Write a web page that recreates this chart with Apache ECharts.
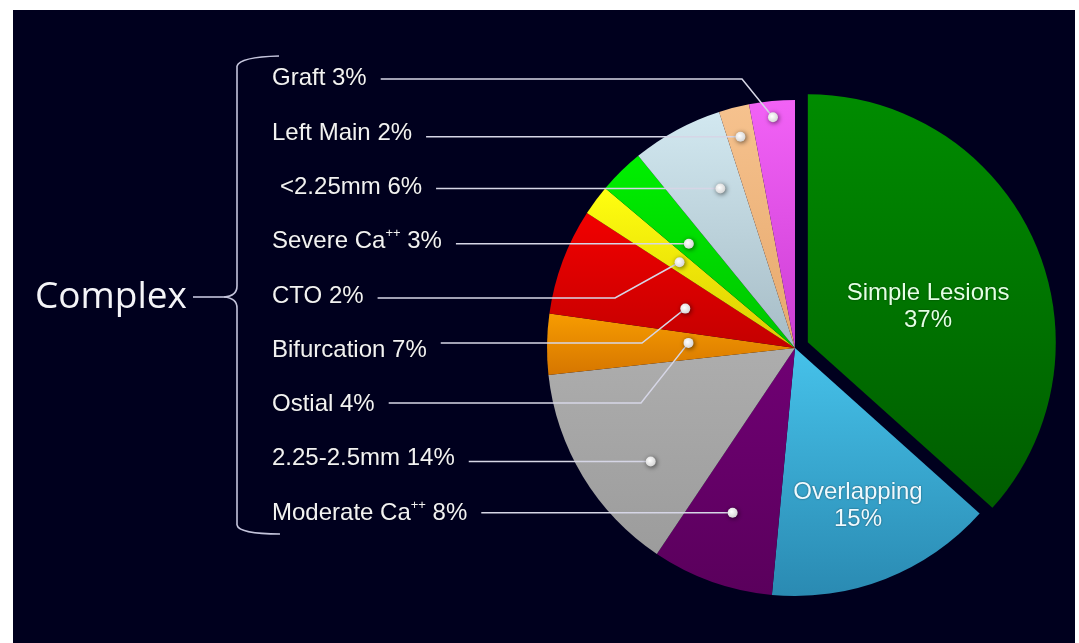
<!DOCTYPE html>
<html>
<head>
<meta charset="utf-8">
<script src="https://cdn.jsdelivr.net/npm/echarts@6/dist/echarts.min.js"></script>
<style>
  html, body { margin: 0; padding: 0; background: #fff; }
  #chart { width: 1079px; height: 643px; }
</style>
</head>
<body>
<div id="chart"></div>
<script>
// data, clockwise from 12 o'clock
const categories = ['Simple Lesions', 'Overlapping', 'Moderate Ca++', '2.25-2.5mm', 'Ostial',
  'Bifurcation', 'CTO', 'Severe Ca++', '<2.25mm', 'Left Main', 'Graft'];
const percents = [37, 15, 8, 14, 4, 7, 2, 3, 6, 2, 3];
const groupLabel = 'Complex';

// colours (top / bottom of gradient)
const colorsTop = ['#008c00', '#46c2ea', '#700074', '#adadad', '#f79c00', '#f20000', '#ffff10', '#00f000', '#d2e8f0', '#f6c28e', '#f262f6'];
const colorsBottom = ['#005c00', '#2a8ab2', '#5a005c', '#9c9c9c', '#d67600', '#c40000', '#dccc00', '#00c400', '#a6bcc6', '#e6a86c', '#cc3ed4'];

// layout, in page pixels
const cx = 795, cy = 348, R = 248;
const labelX = [928, 858, 272, 272, 272, 272, 272, 272, 280, 272, 272];
const labelY = [307, 506, 513, 458, 404, 350, 296, 241, 187, 133, 78];
const lineDy = [0, 0, 0, 0, -1, -7, 2, 0, 0, 0, 1];
const bendX = [null, null, null, null, 641, 642, 615, null, null, null, 742];
const dotAngle = [0, 0, 0.54, 0.36, 0.63, 0.47, 0.51, 0.41, 0.66, 0.47, 0.49];
const dotRadius = [0, 0, 0.71, 0.74, 0.43, 0.47, 0.58, 0.60, 0.71, 0.88, 0.935];

const total = percents.reduce((a, b) => a + b, 0);
const font = 'Liberation Sans, Arial, sans-serif';

function dotPos(i) {
  let start = 0;
  for (let j = 0; j < i; j++) start += percents[j];
  const a0 = start / total * 360;
  const a1 = (start + percents[i]) / total * 360;
  const a = (a0 + (a1 - a0) * dotAngle[i]) * Math.PI / 180;
  const r = R * dotRadius[i];
  return [cx + Math.sin(a) * r, cy - Math.cos(a) * r];
}

// coloured slices
const sliceData = categories.map((name, i) => ({
  name: name,
  value: percents[i],
  selected: i === 0,
  itemStyle: {
    color: {
      type: 'linear', x: 0, y: 0, x2: 0, y2: 1,
      colorStops: [{ offset: 0, color: colorsTop[i] }, { offset: 1, color: colorsBottom[i] }]
    }
  }
}));

// transparent copy on top, carrying the labels and leader lines
const labelData = categories.map((name, i) => {
  const item = { name: name, value: percents[i] };
  if (i < 2) {
    item.label = {
      position: 'inside',
      formatter: '{b}\n{c}%',
      align: 'center',
      color: i === 0 ? '#e4ffe4' : '#effaff',
      lineHeight: 27
    };
    item.labelLine = { show: false };
  }
  return item;
});

const braceStyle = { stroke: '#c4c4dc', lineWidth: 1.6, fill: null };
const graphics = [
  { type: 'rect', z: -10, silent: true, shape: { x: 13, y: 10, width: 1062, height: 633 }, style: { fill: '#00001e' } },
  { type: 'text', z: 10, style: { text: groupLabel, x: 35, y: 297, fontSize: 37, fontFamily: 'Open Sans', fill: '#f4f4f8', verticalAlign: 'middle' } },
  { type: 'line', z: 10, shape: { x1: 193, y1: 297, x2: 224, y2: 297 }, style: braceStyle },
  { type: 'bezierCurve', z: 10, shape: { x1: 279, y1: 56, x2: 237, y2: 66, cpx1: 240, cpy1: 57 }, style: braceStyle },
  { type: 'line', z: 10, shape: { x1: 237, y1: 66, x2: 237, y2: 286 }, style: braceStyle },
  { type: 'bezierCurve', z: 10, shape: { x1: 237, y1: 286, x2: 224, y2: 297, cpx1: 237, cpy1: 296 }, style: braceStyle },
  { type: 'bezierCurve', z: 10, shape: { x1: 224, y1: 297, x2: 237, y2: 308, cpx1: 237, cpy1: 298 }, style: braceStyle },
  { type: 'line', z: 10, shape: { x1: 237, y1: 308, x2: 237, y2: 525 }, style: braceStyle },
  { type: 'bezierCurve', z: 10, shape: { x1: 237, y1: 525, x2: 280, y2: 534, cpx1: 239, cpy1: 534 }, style: braceStyle }
];

// label-line end dots
for (let i = 2; i < categories.length; i++) {
  const p = dotPos(i);
  graphics.push({
    type: 'circle', z: 100, silent: true,
    shape: { cx: p[0], cy: p[1], r: 5 },
    style: {
      fill: { type: 'radial', x: 0.4, y: 0.4, r: 0.6, colorStops: [{ offset: 0, color: '#ffffff' }, { offset: 1, color: '#d8d8d8' }] },
      shadowBlur: 5, shadowColor: 'rgba(0,0,0,0.6)', shadowOffsetX: 1, shadowOffsetY: 1
    }
  });
}

const myChart = echarts.init(document.getElementById('chart'));
myChart.setOption({
  backgroundColor: '#ffffff',
  animation: false,
  graphic: { elements: graphics },
  series: [
    {
      type: 'pie',
      z: 2,
      center: [cx, cy],
      radius: R,
      startAngle: 90,
      clockwise: true,
      selectedMode: 'single',
      selectedOffset: 14,
      select: { itemStyle: {} },
      emphasis: { disabled: true },
      label: { show: false },
      labelLine: { show: false },
      data: sliceData
    },
    {
      type: 'pie',
      z: 5,
      silent: true,
      center: [cx, cy],
      radius: R,
      startAngle: 90,
      clockwise: true,
      avoidLabelOverlap: false,
      emphasis: { disabled: true },
      itemStyle: { color: 'rgba(0,0,0,0)' },
      label: {
        show: true,
        position: 'outside',
        color: '#f2f2f2',
        fontFamily: font,
        fontSize: 24,
        lineHeight: 28,
        textShadowColor: 'rgba(0,0,0,0.5)',
        textShadowBlur: 2,
        formatter: function (p) {
          return p.name.replace('++', '{sup|++}') + ' ' + p.value + '%';
        },
        rich: {
          sup: { fontSize: 13, lineHeight: 14, verticalAlign: 'top', color: '#f2f2f2', fontFamily: font }
        }
      },
      labelLine: {
        show: true,
        smooth: false,
        lineStyle: { color: '#d6d6e6', width: 1.5 }
      },
      labelLayout: function (p) {
        const i = p.dataIndex;
        if (i < 2) {
          return { x: labelX[i], y: labelY[i], align: 'center', verticalAlign: 'middle' };
        }
        const d = dotPos(i);
        const ly = bendX[i] == null ? d[1] : labelY[i] + lineDy[i];
        const start = [labelX[i] + p.labelRect.width + 14, ly];
        const bend = bendX[i] == null ? [(start[0] + d[0]) / 2, ly] : [bendX[i], ly];
        return {
          x: labelX[i], y: labelY[i], align: 'left', verticalAlign: 'middle',
          labelLinePoints: [d, bend, start]
        };
      },
      data: labelData
    }
  ]
});
</script>
</body>
</html>
